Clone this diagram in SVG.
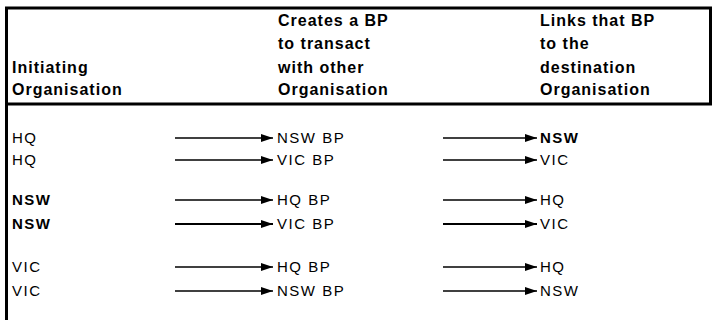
<svg xmlns="http://www.w3.org/2000/svg" width="712" height="320" viewBox="0 0 712 320">
  <defs>
    <marker id="ah" viewBox="0 0 12 8" refX="12" refY="4" markerWidth="12" markerHeight="8" markerUnits="userSpaceOnUse" orient="auto">
      <path d="M0,0 L12,4 L0,8 Z" fill="#000"/>
    </marker>
    <style>
      .hd { font-family: "Liberation Sans", Arial, sans-serif; font-size: 16px; font-weight: bold; fill: #000; letter-spacing: 1px; }
      .tx { font-family: "Liberation Sans", Arial, sans-serif; font-size: 15px; fill: #000; letter-spacing: 1.5px; }
      .b { font-weight: bold; }
      .frame { stroke: #000; stroke-width: 3; fill: none; }
      .arr { stroke: #000; stroke-width: 1.3; fill: none; marker-end: url(#ah); }
      .arrb { stroke-width: 2; }
    </style>
  </defs>
  <rect width="712" height="320" fill="#fff"/>
  <g id="frame">
    <line class="frame" x1="5" y1="8" x2="712" y2="8"/>
    <line class="frame" x1="6.5" y1="8" x2="6.5" y2="320"/>
    <line class="frame" x1="710.5" y1="8" x2="710.5" y2="104"/>
    <line class="frame" x1="6" y1="104" x2="712" y2="104"/>
  </g>
  <g id="header">
    <text class="hd" x="12" y="73">Initiating</text>
    <text class="hd" x="12" y="95">Organisation</text>
    <text class="hd" x="278" y="26">Creates a BP</text>
    <text class="hd" x="278" y="49">to transact</text>
    <text class="hd" x="278" y="73">with other</text>
    <text class="hd" x="278" y="95">Organisation</text>
    <text class="hd" x="540" y="26">Links that BP</text>
    <text class="hd" x="540" y="49">to the</text>
    <text class="hd" x="540" y="73">destination</text>
    <text class="hd" x="540" y="95">Organisation</text>
  </g>
  <g id="col1">
    <text class="tx" x="12" y="143">HQ</text>
    <text class="tx" x="12" y="165">HQ</text>
    <text class="tx b" x="12" y="205">NSW</text>
    <text class="tx b" x="12" y="229">NSW</text>
    <text class="tx" x="12" y="272">VIC</text>
    <text class="tx" x="12" y="296">VIC</text>
  </g>
  <g id="col2">
    <text class="tx" x="277" y="143">NSW BP</text>
    <text class="tx" x="277" y="165">VIC BP</text>
    <text class="tx" x="277" y="205">HQ BP</text>
    <text class="tx" x="277" y="229">VIC BP</text>
    <text class="tx" x="277" y="272">HQ BP</text>
    <text class="tx" x="277" y="296">NSW BP</text>
  </g>
  <g id="col3">
    <text class="tx b" x="540" y="143">NSW</text>
    <text class="tx" x="540" y="165">VIC</text>
    <text class="tx" x="540" y="205">HQ</text>
    <text class="tx" x="540" y="229">VIC</text>
    <text class="tx" x="540" y="272">HQ</text>
    <text class="tx" x="540" y="296">NSW</text>
  </g>
  <g id="connectors">
    <line class="arr" x1="175" y1="138" x2="273" y2="138"/>
    <line class="arr" x1="175" y1="160" x2="273" y2="160"/>
    <line class="arr" x1="175" y1="200" x2="273" y2="200"/>
    <line class="arr arrb" x1="175" y1="224" x2="273" y2="224"/>
    <line class="arr" x1="175" y1="267" x2="273" y2="267"/>
    <line class="arr" x1="175" y1="291" x2="273" y2="291"/>
    <line class="arr" x1="443" y1="138" x2="537" y2="138"/>
    <line class="arr" x1="443" y1="160" x2="537" y2="160"/>
    <line class="arr" x1="443" y1="200" x2="537" y2="200"/>
    <line class="arr arrb" x1="443" y1="224" x2="537" y2="224"/>
    <line class="arr" x1="443" y1="267" x2="537" y2="267"/>
    <line class="arr" x1="443" y1="291" x2="537" y2="291"/>
  </g>
</svg>
